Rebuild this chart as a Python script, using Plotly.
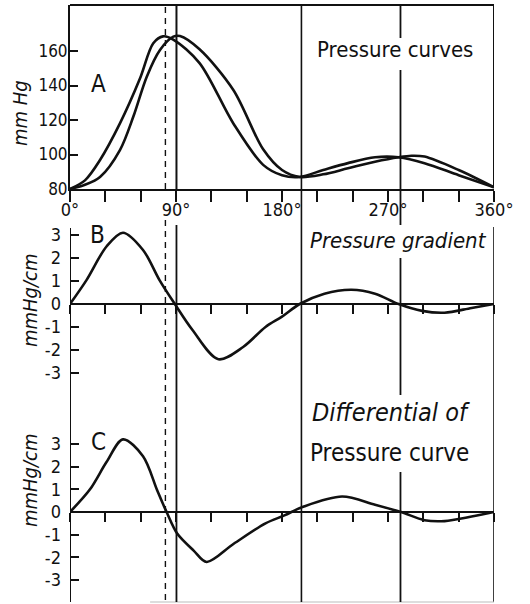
import plotly.graph_objects as go

# ---------------- data ----------------
# Panel A: two pressure curves (mm Hg) against phase angle (degrees)
deg_a1 = [0, 12.7, 25.5, 42.4, 59.4, 70.7, 79, 88, 110, 138.7, 164, 180, 195, 215, 236, 259, 279, 301, 330, 360]
press_a1 = [80, 85, 96.8, 118, 144, 164.5, 168.5, 166.5, 153, 118, 94, 88, 87, 91, 95, 98.4, 98.4, 95, 88, 81]

deg_a2 = [0, 12.7, 25.5, 42.4, 53.8, 65.1, 76.4, 87.7, 93.4, 110, 138.7, 164, 180, 195, 215, 236, 259, 279, 290, 301, 330, 360]
press_a2 = [80, 82.5, 87, 102.6, 122, 145, 160.6, 168.3, 168.7, 161, 137.4, 103, 91, 87, 88.5, 92, 95.8, 98.4, 99.3, 98.8, 91, 81]

# Panel B: pressure gradient (mmHg/cm)
deg_b = [0, 14, 31, 45, 62, 76, 89, 104, 126, 147, 166, 180, 195, 216, 239, 259, 279, 299, 318, 341, 360]
grad_b = [0, 1.04, 2.5, 3.1, 2.35, 1.04, 0, -1.13, -2.4, -1.87, -1.0, -0.55, 0, 0.45, 0.62, 0.45, 0, -0.3, -0.38, -0.17, 0]

# Panel C: differential of pressure curve (mmHg/cm)
deg_c = [0, 17, 31, 45, 62, 74, 82, 91, 105, 116, 139, 166, 182, 198, 231, 259, 281, 301, 318, 341, 360]
diff_c = [0, 1.0, 2.2, 3.2, 2.46, 0.96, 0, -0.95, -1.7, -2.2, -1.4, -0.5, -0.15, 0.23, 0.68, 0.32, 0, -0.36, -0.4, -0.2, 0]

# axis ticks / labels
x_tick_deg = list(range(0, 361, 30))
x_tick_text = ["0°", "", "", "90°", "", "", "180°", "", "", "270°", "", "", "360°"]
a_tick_vals = [80, 100, 120, 140, 160]
bc_tick_vals = [3, 2, 1, 0, -1, -2, -3]
bc_tick_text = ["3", "2", "1", "0", "-1", "-2", "-3"]

# reference lines (degrees)
line_90_deg = 90.4
line_180_deg = 196.5
line_270_deg = 280.6
dashed_deg = 81.0

# ---------------- layout helpers ----------------
W, H = 530, 604
ML, MR, MT, MB = 70, 36, 5, 2


def py(ypx):
    """pixel row -> paper fraction"""
    return (H - MB - ypx) / (H - MT - MB)


FONT = "DejaVu Sans Condensed, DejaVu Sans, Liberation Sans, sans-serif"
INK = "#111111"

fig = go.Figure()
curve_style = dict(color=INK, width=2.6, shape="spline", smoothing=0.9)
fig.add_trace(go.Scatter(x=deg_a1, y=press_a1, mode="lines", line=curve_style, xaxis="x", yaxis="y", showlegend=False))
fig.add_trace(go.Scatter(x=deg_a2, y=press_a2, mode="lines", line=curve_style, xaxis="x", yaxis="y", showlegend=False))
fig.add_trace(go.Scatter(x=deg_b, y=grad_b, mode="lines", line=curve_style, xaxis="x2", yaxis="y2", showlegend=False))
fig.add_trace(go.Scatter(x=deg_c, y=diff_c, mode="lines", line=curve_style, xaxis="x3", yaxis="y3", showlegend=False))

# y-scales (px per unit) chosen to match the drawing
a_top = 80 + (189 - 5) / 1.725
b_top, b_bot = (304 - 228) / 23.0, -(400 - 304) / 23.0
c_top, c_bot = (512 - 400) / 22.7, -(602 - 512) / 22.7

common_x = dict(range=[0, 360], domain=[0, 1], showgrid=False, zeroline=False,
                showline=True, linecolor=INK, linewidth=2, tickvals=x_tick_deg,
                ticks="outside", tickcolor=INK, tickwidth=1.6)

fig.update_layout(
    width=W, height=H,
    margin=dict(l=ML, r=MR, t=MT, b=MB, autoexpand=False),
    paper_bgcolor="white", plot_bgcolor="white",
    font=dict(family=FONT, color=INK),
    xaxis=dict(**common_x, anchor="y", ticklen=11, ticktext=x_tick_text,
               tickfont=dict(size=18, family=FONT), ticklabelstandoff=-8),
    yaxis=dict(domain=[py(189), 1], range=[80, a_top], showgrid=False, zeroline=False,
               showline=True, linecolor=INK, linewidth=2, ticks="inside", ticklen=8,
               tickcolor=INK, tickwidth=1.6, tickvals=a_tick_vals,
               tickfont=dict(size=17, family=FONT), ticklabelstandoff=-3, anchor="x"),
    xaxis2=dict(**common_x, anchor="free", position=py(304), ticklen=9, showticklabels=False),
    yaxis2=dict(domain=[py(400), py(228)], range=[b_bot, b_top], showgrid=False, zeroline=False,
                showline=False, ticks="inside", ticklen=9, tickcolor=INK, tickwidth=1.6,
                tickvals=bc_tick_vals, ticktext=bc_tick_text,
                tickfont=dict(size=18, family=FONT), ticklabelstandoff=8, anchor="x2"),
    xaxis3=dict(**common_x, anchor="free", position=py(512), ticklen=9, showticklabels=False),
    yaxis3=dict(domain=[0, py(400)], range=[c_bot, c_top], showgrid=False, zeroline=False,
                showline=False, ticks="inside", ticklen=9, tickcolor=INK, tickwidth=1.6,
                tickvals=bc_tick_vals, ticktext=bc_tick_text,
                tickfont=dict(size=18, family=FONT), ticklabelstandoff=8, anchor="x3"),
)

shapes = []


def vseg(xdeg, y0px, y1px, width=1.6, dash="solid", color=INK):
    shapes.append(dict(type="line", xref="x", yref="paper", x0=xdeg, x1=xdeg,
                       y0=py(y0px), y1=py(y1px), line=dict(color=color, width=width, dash=dash)))


# frame
shapes.append(dict(type="line", xref="x", yref="paper", x0=-2, x1=360, y0=1, y1=1,
                   line=dict(color=INK, width=2)))
vseg(360, 5, 187, width=2)
vseg(360, 227, 602, width=1.6)
vseg(0, 228, 602, width=2)
shapes.append(dict(type="line", xref="x", yref="paper", x0=68, x1=360, y0=0, y1=0,
                   line=dict(color="#bbbbbb", width=1.2)))
# reference lines
vseg(line_90_deg, 5, 189, width=2)
vseg(line_90_deg, 225, 602, width=1.8)
vseg(dashed_deg, 7, 189, width=1.4, dash="6px,5px")
vseg(dashed_deg, 220, 602, width=1.4, dash="6px,5px")
vseg(line_180_deg, 5, 602, width=1.6)
for a, b in [(5, 38), (70, 225), (258, 395), (472, 602)]:
    vseg(line_270_deg, a, b, width=1.8)
fig.update_layout(shapes=shapes)

ann = []


def text(s, x, y, xref, yref, size, angle=0, italic=False):
    ann.append(dict(text=s, x=x, y=y, xref=xref, yref=yref, showarrow=False,
                    textangle=angle, xanchor="center", yanchor="middle",
                    font=dict(size=size, family=FONT, color=INK,
                              style="italic" if italic else "normal")))


text("A", 24, 141, "x", "y", 24)
text("Pressure curves", 276, 160.6, "x", "y", 22)
text("B", 23, 3.0, "x2", "y2", 24)
text("Pressure gradient", 279, 2.78, "x2", "y2", 22, italic=True)
text("C", 24, 3.07, "x3", "y3", 24)
text("Differential of", 272.5, 4.4, "x3", "y3", 25, italic=True)
text("Pressure curve", 271, 2.6, "x3", "y3", 24)
text("mm Hg", (20 - ML) / (W - ML - MR), py(113), "paper", "paper", 20, angle=-90, italic=True)
text("mmHg/cm", (30 - ML) / (W - ML - MR), py(300), "paper", "paper", 20, angle=-90, italic=True)
text("mmHg/cm", (30 - ML) / (W - ML - MR), py(480), "paper", "paper", 20, angle=-90, italic=True)
fig.update_layout(annotations=ann)

fig.write_html("out.html", config={"displayModeBar": False},
               post_script="document.body.style.margin='0';document.body.style.overflow='hidden';")
